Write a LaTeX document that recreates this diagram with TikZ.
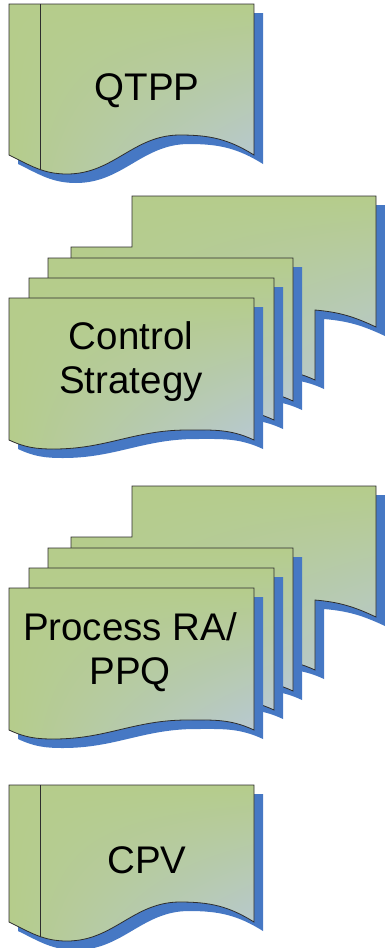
\documentclass[tikz,border=0pt]{standalone}
\usepackage{fontspec}
\setmainfont{Liberation Sans}
\usetikzlibrary{shadings}
\definecolor{pagegreen}{RGB}{181,204,139}
\definecolor{pageblue}{RGB}{184,200,214}
\definecolor{shadowblue}{RGB}{70,120,196}
\definecolor{edgegray}{RGB}{45,45,45}
\tikzset{
  page/.style={draw=edgegray, line width=0.8pt, shade,
    upper left=pagegreen, upper right=pagegreen, lower left=pagegreen, lower right=pageblue,
    preaction={fill=shadowblue, transform canvas={xshift=9pt, yshift=-9pt}}},
  doctext/.style={font=\fontsize{38.5}{44}\selectfont, align=center, inner sep=0pt}
}

\begin{document}
\begin{tikzpicture}[x=1pt,y=-1pt]
  \useasboundingbox (0,0) rectangle (385,948);
  % single documents
  \foreach \t/\b in {4/155, 785/922}
    \path[page, path picture={\draw[edgegray, line width=0.7pt] (40,\t) -- (40,{\b+40});}]
      (9,\t) -- (254,\t) -- (254,\b) to[out=148,in=0] (180,{\b-20})
      to[out=180,in=0] (67,{\b+19}) to[out=180,in=-26] (9,\b) -- cycle;
  % stacks of pages
  \foreach \g in {0,290}
  {
    \path[page] (71,{247+\g}) -- (132,{247+\g}) -- (132,{196+\g}) -- (376,{196+\g})
      -- (376,{327+\g}) to[out=155,in=-5] (315,{310+\g}) -- (315,{380+\g})
      to[out=155,in=0] (248,{370+\g}) -- (71,{370+\g}) -- cycle;
    \foreach \l/\t/\b in {48/258/401, 29/278/420, 9/298/440}
      \path[page] (\l,{\t+\g}) -- ({\l+245},{\t+\g}) -- ({\l+245},{\b+\g})
        to[out=155,in=0] ({\l+178},{\b+\g-10}) to[out=180,in=0] ({\l+45},{\b+\g+9})
        to[out=180,in=-25] (\l,{\b+\g}) -- cycle;
  }
  \node[doctext, anchor=base] (qtpp) at (147,100) {QTPP};
  \node[doctext] (ctrl) at (131,362) {Control\\Strategy};
  \node[doctext] (ppq) at (130,652) {Process RA/\\PPQ};
  \node[doctext, anchor=base] (cpv) at (147,873) {CPV};
\end{tikzpicture}
\end{document}
